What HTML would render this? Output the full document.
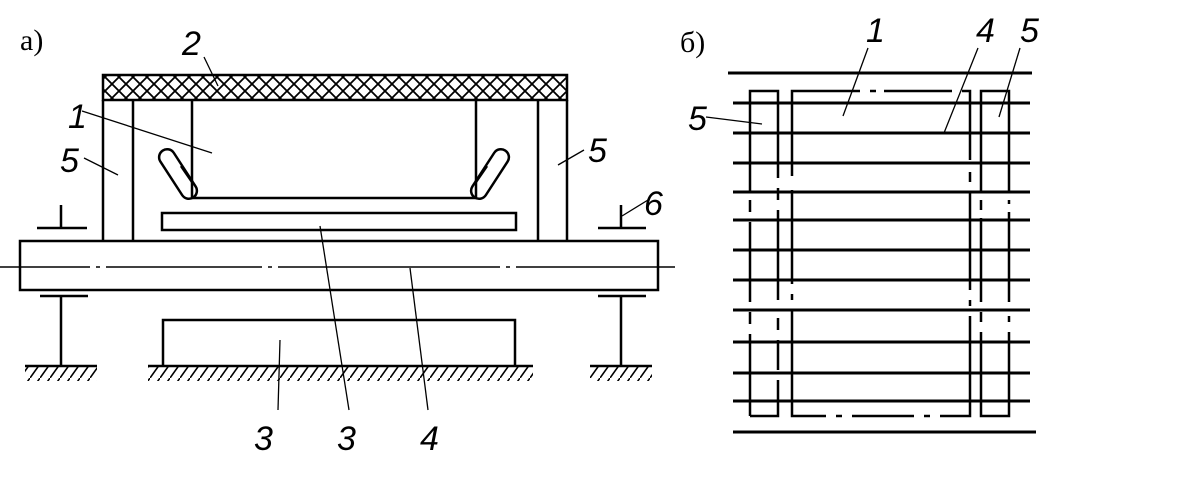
<!DOCTYPE html>
<html><head><meta charset="utf-8"><style>
html,body{margin:0;padding:0;background:#fff;}
svg{display:block;}
text{font-family:"Liberation Sans",sans-serif;font-style:italic;font-size:34px;fill:#000;}
.up{font-style:normal;font-family:"Liberation Serif",serif;font-size:30px;}
</style></head><body>
<svg width="1201" height="500" viewBox="0 0 1201 500" xmlns="http://www.w3.org/2000/svg">
<defs>
<pattern id="hx" width="14" height="14" patternUnits="userSpaceOnUse">
<path d="M0,0 L14,14 M14,0 L0,14" stroke="#000" stroke-width="1.8"/>
</pattern>
<pattern id="gh" width="10" height="14" patternUnits="userSpaceOnUse">
<path d="M10,0 L0,14" stroke="#000" stroke-width="1.6"/>
</pattern>
</defs>
<g stroke="#000" stroke-width="2.5" fill="none">
<rect x="103" y="75" width="464" height="25" fill="url(#hx)"/>
<path d="M103,100 V241 M133,100 V241 M538,100 V241 M567,100 V241"/>
<path d="M192,100 V198 H476 V100"/>
<rect x="170" y="146" width="16" height="56" rx="8" transform="rotate(-33 178 174)"/>
<path d="M181,166 L192,182"/>
<rect x="482" y="146" width="16" height="56" rx="8" transform="rotate(33 490 174)"/>
<path d="M487,166 L476,182"/>
<rect x="162" y="213" width="354" height="17"/>
<rect x="20" y="241" width="638" height="49"/>
<path d="M0,267 H90 M96,267 H100 M106,267 H262 M268,267 H272 M278,267 H500 M506,267 H510 M516,267 H675" stroke-width="1.5"/>
<path d="M61,205 V228 M37,228 H87 M40,296 H88 M61,296 V366 M25,366 H97"/>
<path d="M621,205 V228 M598,228 H646 M598,296 H646 M621,296 V366 M590,366 H652"/>
<path d="M163,366 V320 H515 V366 M148,366 H533"/>
</g>
<rect x="25" y="367" width="72" height="14" fill="url(#gh)"/>
<rect x="148" y="367" width="385" height="14" fill="url(#gh)"/>
<rect x="590" y="367" width="62" height="14" fill="url(#gh)"/>
<g stroke="#000" stroke-width="1.3">
<line x1="204" y1="57" x2="218" y2="86"/>
<line x1="82" y1="111" x2="212" y2="153"/>
<line x1="84" y1="158" x2="118" y2="175"/>
<line x1="584" y1="150" x2="558" y2="165"/>
<line x1="648" y1="200" x2="622" y2="216"/>
<line x1="278" y1="410" x2="280" y2="340"/>
<line x1="349" y1="410" x2="320" y2="226"/>
<line x1="428" y1="410" x2="410" y2="268"/>
</g>
<text class="up" x="20" y="50">а)</text>
<text x="182" y="55">2</text>
<text x="68" y="128">1</text>
<text x="60" y="172">5</text>
<text x="588" y="162">5</text>
<text x="644" y="215">6</text>
<text x="254" y="450">3</text>
<text x="337" y="450">3</text>
<text x="420" y="450">4</text>
<g stroke="#000" stroke-width="3" fill="none">
<path d="M728,73 H1032 M733,432 H1036"/>
<path d="M733,103 H1030 M733,133 H1030 M733,163 H1030 M733,192 H1030 M733,220 H1030 M733,250 H1030 M733,280 H1030 M733,310 H1030 M733,342 H1030 M733,373 H1030 M733,401 H1030"/>
</g>
<g stroke="#000" stroke-width="2.5" fill="none">
<path d="M750,192 V91 H778 V178 M750,416 H778 V380"/>
<path d="M750,200 V212 M750,222 V302 M750,312 V324 M750,334 V416"/>
<path d="M778,188 V200 M778,210 V300 M778,318 V330 M778,340 V370"/>
<path d="M792,176 V91 H860 M870,91 H876 M884,91 H952 M962,91 H970 V160 M970,172 V182 M970,192 V290 M970,300 V306 M970,316 V416 H940 M930,416 H924 M914,416 H852 M842,416 H836 M826,416 H792 V310 M792,300 V294 M792,284 V190"/>
<path d="M981,192 V91 H1009 V192 M981,200 V210 M981,218 V302 M981,312 V322 M981,332 V416 H1009 V332 M1009,322 V316 M1009,302 V212 M1009,204 V200"/>
</g>
<g stroke="#000" stroke-width="1.3">
<line x1="868" y1="48" x2="843" y2="116"/>
<line x1="978" y1="48" x2="944" y2="133"/>
<line x1="1020" y1="48" x2="999" y2="117"/>
<line x1="706" y1="117" x2="762" y2="124"/>
</g>
<text class="up" x="680" y="52">б)</text>
<text x="866" y="42">1</text>
<text x="976" y="42">4</text>
<text x="1020" y="42">5</text>
<text x="688" y="130">5</text>
</svg>
</body></html>
